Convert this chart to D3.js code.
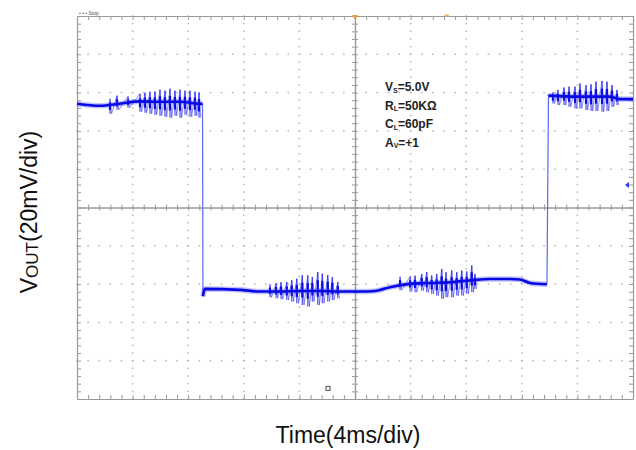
<!DOCTYPE html>
<html>
<head>
<meta charset="utf-8">
<script src="https://cdn.jsdelivr.net/npm/d3@7"></script>
<style>
  body { margin: 0; background: #fff; }
  svg { display: block; font-family: "Liberation Sans", Arial, sans-serif; }
</style>
</head>
<body>
<svg id="chart"></svg>
<script>
let w = 636;
let h = 450;

// time in ms (4 ms/div), level in mV (20 mV/div)
let highT1 = [0, 1.65, 3.09, 4.53, 5.97, 7.41, 8.85, 9.03];
let highV1 = [54.2, 53.1, 54.2, 55.4, 55.2, 55.2, 54.2, 54.2];
let lowT = [9.06, 9.2, 11.73, 13.17, 14.6, 16.04, 17.48, 18.92, 20.36, 21.44, 22.52, 23.96, 25.4, 26.83, 28.27, 29.71, 31.15, 31.87, 32.59, 33.81];
let lowV = [-46.3, -42.5, -43.0, -43.9, -43.9, -43.6, -43.6, -43.9, -43.9, -43.6, -41.6, -39.9, -39.4, -39.0, -38.1, -37.3, -37.3, -37.6, -39.4, -40.1];
let highT2 = [33.92, 34.03, 35.47, 36.91, 38.35, 39.06, 40];
let highV2 = [57.9, 58.4, 57.9, 57.9, 57.9, 56.6, 56.6];

// noise spikes: time, top, bottom
let spikeT = [2.37, 2.88, 3.67, 4.53, 4.89, 5.25, 5.61, 5.97, 6.33, 6.69, 7.05, 7.41, 7.77, 8.13, 8.49, 8.78,
  13.88, 14.32, 14.68, 15.09, 15.45, 15.81, 16.21, 16.6, 16.93, 17.32, 17.65, 18.04, 18.37, 18.76,
  23.24, 23.96, 24.32, 24.8, 25.16, 25.52, 25.88, 26.24, 26.55, 26.96, 27.32, 27.68, 28.04, 28.4, 28.63,
  34.24, 34.6, 35.04, 35.4, 35.83, 36.19, 36.62, 36.98, 37.34, 37.77, 38.13, 38.49, 38.85];
let spikeHi = [56.8, 58.4, 57.9, 59.4, 59.9, 60.5, 60.5, 61.5, 61.0, 62.0, 61.0, 61.5, 61.0, 61.0, 60.5, 59.9,
  -40.1, -39.5, -39.0, -38.9, -38.0, -37.2, -35.4, -35.4, -36.3, -33.7, -34.6, -35.4, -36.3, -38.9,
  -36.1, -36.1, -35.6, -34.7, -33.8, -35.5, -34.7, -32.1, -33.8, -32.9, -33.8, -32.9, -33.4, -30.3, -34.7,
  60.2, 61.4, 62.6, 63.1, 63.1, 64.8, 63.9, 64.3, 65.7, 66.1, 65.7, 63.9, 61.4];
let spikeLo = [49.0, 51.0, 52.1, 50.0, 49.5, 49.0, 48.4, 47.9, 47.4, 46.9, 47.9, 46.9, 48.4, 47.4, 47.9, 46.9,
  -46.9, -47.4, -47.9, -48.3, -49.1, -50.0, -50.9, -51.7, -49.1, -50.9, -50.0, -49.1, -48.3, -47.4,
  -43.2, -43.7, -44.2, -43.4, -44.3, -45.1, -46.0, -47.7, -46.9, -46.9, -46.0, -46.0, -45.1, -44.3, -42.5,
  54.3, 53.5, 53.5, 52.6, 51.7, 51.7, 50.9, 50.4, 50.4, 50.0, 50.4, 52.6, 53.5];

let notes = [["V", "S", "=5.0V"], ["R", "L", "=50K\u03A9"], ["C", "L", "=60pF"], ["A", "V", "=+1"]];

let majorX = d3.range(0, 40.01, 4);
let minorX = d3.range(0, 40.01, 0.8);
let majorY = d3.range(-100, 100.01, 20);
let minorY = d3.range(-100, 100.01, 4);

let svg = d3.select("#chart").attr("width", w).attr("height", h);

let xScale = d3.scaleLinear().domain([0, 40]).range([77, 633]);
let yScale = d3.scaleLinear().domain([-100, 100]).range([399, 16]);

// dotted grid
let grid = svg.append("g").attr("fill", "#b4b4b4");
majorX.filter((d) => d > 0 && d < 40 && d != 20).forEach((mx) => {
  grid.selectAll(null)
      .data(minorY)
      .enter()
      .append("rect")
      .attr("x", xScale(mx) - 0.75)
      .attr("y", (d) => yScale(d) - 0.75)
      .attr("width", 1.5)
      .attr("height", 1.5)
});
majorY.filter((d) => d > -100 && d < 100 && d != 0).forEach((my) => {
  grid.selectAll(null)
      .data(minorX)
      .enter()
      .append("rect")
      .attr("x", (d) => xScale(d) - 0.75)
      .attr("y", yScale(my) - 0.75)
      .attr("width", 1.5)
      .attr("height", 1.5)
});

let styleAxis = (g) => {
  g.selectAll("path").attr("stroke", "#999").attr("stroke-width", 1.2)
  g.selectAll("line").attr("stroke", "#999")
  g.selectAll("text").remove()
}

// centre cross with ticks
svg.append("g").attr("transform", `translate(0, ${yScale(0)})`)
   .call(d3.axisBottom(xScale).tickValues(minorX).tickSizeInner(3).tickSizeOuter(0).tickFormat(""))
   .call(styleAxis)
svg.append("g").attr("transform", `translate(0, ${yScale(0)})`)
   .call(d3.axisTop(xScale).tickValues(minorX).tickSizeInner(3).tickSizeOuter(0).tickFormat(""))
   .call(styleAxis)
svg.append("g").attr("transform", `translate(${xScale(20)}, 0)`)
   .call(d3.axisLeft(yScale).tickValues(minorY).tickSizeInner(3).tickSizeOuter(0).tickFormat(""))
   .call(styleAxis)
svg.append("g").attr("transform", `translate(${xScale(20)}, 0)`)
   .call(d3.axisRight(yScale).tickValues(minorY).tickSizeInner(3).tickSizeOuter(0).tickFormat(""))
   .call(styleAxis)

// frame with inward ticks
svg.append("g").attr("transform", `translate(0, ${yScale(100)})`)
   .call(d3.axisTop(xScale).tickValues(minorX).tickSizeInner(-4).tickSizeOuter(0).tickFormat(""))
   .call(styleAxis)
svg.append("g").attr("transform", `translate(0, ${yScale(-100)})`)
   .call(d3.axisBottom(xScale).tickValues(minorX).tickSizeInner(-4).tickSizeOuter(0).tickFormat(""))
   .call(styleAxis)
svg.append("g").attr("transform", `translate(${xScale(0)}, 0)`)
   .call(d3.axisLeft(yScale).tickValues(minorY).tickSizeInner(-4).tickSizeOuter(0).tickFormat(""))
   .call(styleAxis)
svg.append("g").attr("transform", `translate(${xScale(40)}, 0)`)
   .call(d3.axisRight(yScale).tickValues(minorY).tickSizeInner(-4).tickSizeOuter(0).tickFormat(""))
   .call(styleAxis)

// scope markers
svg.append("path")
   .attr("d", `M${xScale(20) - 3},${yScale(100) - 1} L${xScale(20) + 3},${yScale(100) - 1} L${xScale(20)},${yScale(100) + 4} Z`)
   .attr("fill", "#f0a030")
svg.append("rect")
   .attr("x", xScale(26.6) - 2).attr("y", yScale(100) - 1.5)
   .attr("width", 4).attr("height", 2)
   .attr("fill", "#f0b050")
svg.append("path")
   .attr("d", `M${xScale(40) - 8},${yScale(11.8)} L${xScale(40) - 4},${yScale(11.8) - 3} L${xScale(40) - 4},${yScale(11.8) + 3} Z`)
   .attr("fill", "#2040e0")
svg.append("rect")
   .attr("x", xScale(18.06) - 2).attr("y", yScale(-94.5) - 2)
   .attr("width", 4).attr("height", 4)
   .attr("fill", "none").attr("stroke", "#666").attr("stroke-width", 1.2)
svg.append("text")
   .attr("x", 79).attr("y", 15)
   .attr("font-size", 5).attr("fill", "#555")
   .text("\u2022 \u2022 \u2022  Stop")

// trace
let line = d3.line()
             .x((d) => xScale(d[0]))
             .y((d) => yScale(d[1]))
             .curve(d3.curveMonotoneX);
let segs = [d3.zip(highT1, highV1), d3.zip(lowT, lowV), d3.zip(highT2, highV2)];

// split spikes into bursts where the time gap is large
let bursts = [];
spikeT.forEach((t, i) => {
  if (i == 0 || t - spikeT[i - 1] > 1.5) bursts.push([]);
  bursts[bursts.length - 1].push(i);
});

let zig = d3.line().x((d) => xScale(d[0])).y((d) => yScale(d[1]));
svg.append("g").selectAll("path")
   .data(bursts.map((b) => b.flatMap((i) => [[spikeT[i], spikeHi[i]], [spikeT[i] + 0.12, spikeLo[i]]])))
   .enter()
   .append("path")
   .attr("d", zig)
   .attr("fill", "none")
   .attr("stroke", "#2a2af2")
   .attr("stroke-width", 1)
   .attr("opacity", 0.55)

svg.append("g").selectAll("line")
   .data(d3.range(spikeT.length))
   .enter()
   .append("line")
   .attr("x1", (i) => xScale(spikeT[i]))
   .attr("x2", (i) => xScale(spikeT[i]))
   .attr("y1", (i) => yScale(spikeHi[i]))
   .attr("y2", (i) => yScale(spikeLo[i]))
   .attr("stroke", "#2828f2")
   .attr("stroke-width", 1.2)
   .attr("opacity", 0.8)

// dense inner part of each spike
let mid = (i) => yScale((spikeHi[i] + spikeLo[i]) / 2);
svg.append("g").selectAll("line")
   .data(d3.range(spikeT.length))
   .enter()
   .append("line")
   .attr("x1", (i) => xScale(spikeT[i]))
   .attr("x2", (i) => xScale(spikeT[i]))
   .attr("y1", (i) => yScale(spikeHi[i]) * 0.5 + mid(i) * 0.5)
   .attr("y2", (i) => yScale(spikeLo[i]) * 0.5 + mid(i) * 0.5)
   .attr("stroke", "#0a0ae8")
   .attr("stroke-width", 2.2)

// edges
svg.append("line")
   .attr("x1", xScale(highT1[highT1.length - 1])).attr("x2", xScale(lowT[0]))
   .attr("y1", yScale(highV1[highV1.length - 1])).attr("y2", yScale(lowV[0]))
   .attr("stroke", "#5a6af5").attr("stroke-width", 1.2)
svg.append("line")
   .attr("x1", xScale(lowT[lowT.length - 1])).attr("x2", xScale(highT2[0]))
   .attr("y1", yScale(lowV[lowV.length - 1])).attr("y2", yScale(highV2[0]))
   .attr("stroke", "#5a6af5").attr("stroke-width", 1.2)

svg.append("g").selectAll("path.fuzz")
   .data(segs)
   .enter()
   .append("path")
   .attr("class", "fuzz")
   .attr("d", line)
   .attr("fill", "none")
   .attr("stroke", "#3a3af5")
   .attr("stroke-width", 5.5)
   .attr("opacity", 0.3)
svg.append("g").selectAll("path.trace")
   .data(segs)
   .enter()
   .append("path")
   .attr("class", "trace")
   .attr("d", line)
   .attr("fill", "none")
   .attr("stroke", "#0808e6")
   .attr("stroke-width", 2.6)
   .attr("stroke-linejoin", "round")

// annotations
let ann = svg.append("g")
             .attr("font-size", 12)
             .attr("font-weight", "bold")
             .attr("fill", "#222")
notes.forEach((n, i) => {
  let t = ann.append("text").attr("x", 385).attr("y", 91 + i * 18.5)
  t.append("tspan").text(n[0])
  t.append("tspan").attr("font-size", 7).attr("dy", 1.5).text(n[1])
  t.append("tspan").attr("dy", -1.5).text(n[2])
})

// axis titles
svg.append("text")
   .attr("x", 348).attr("y", 443)
   .attr("text-anchor", "middle")
   .attr("font-size", 23)
   .attr("fill", "#111")
   .text("Time(4ms/div)")

let yl = svg.append("text")
            .attr("transform", "translate(37, 212) rotate(-90)")
            .attr("text-anchor", "middle")
            .attr("font-size", 23)
            .attr("fill", "#111")
yl.append("tspan").text("V")
yl.append("tspan").attr("font-size", 17).attr("dy", 1).text("OUT")
yl.append("tspan").attr("dy", -1).text("(20mV/div)")
</script>
</body>
</html>
